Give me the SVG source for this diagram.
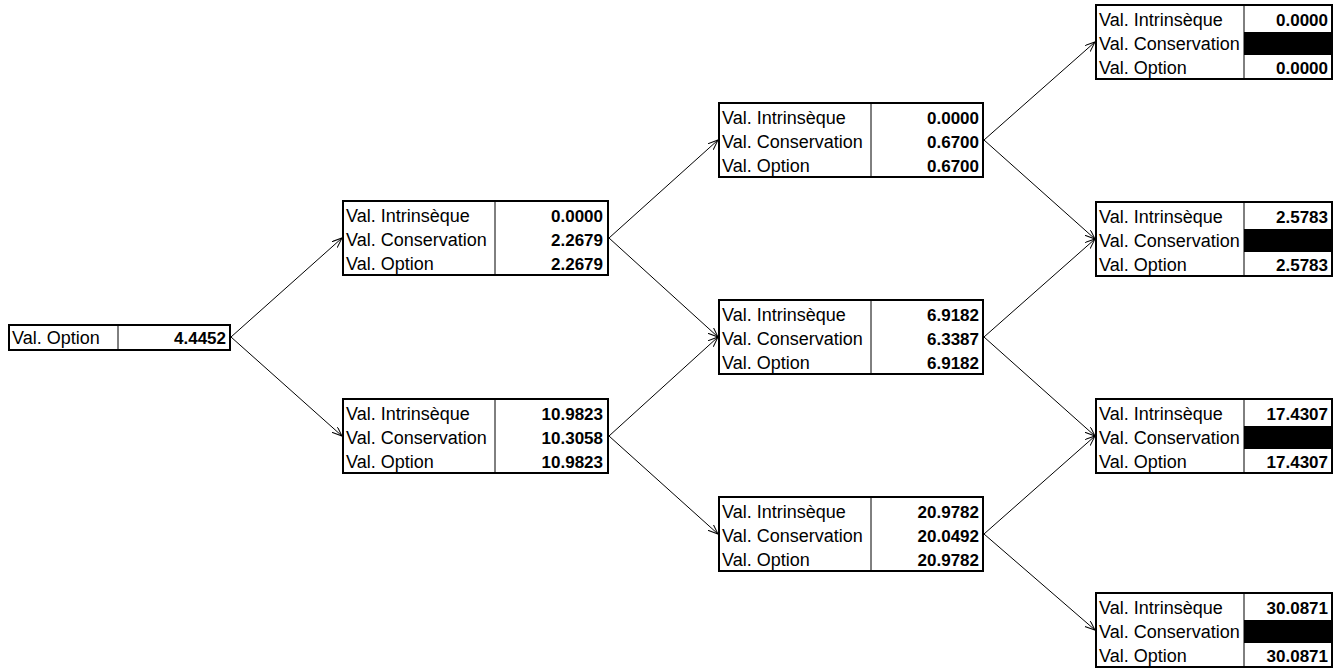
<svg xmlns="http://www.w3.org/2000/svg" width="1343" height="668" viewBox="0 0 1343 668">
<style>
.box{fill:#fff;stroke:#000;stroke-width:2}
.div{stroke:#000;stroke-width:1}
.lbl{font-family:"Liberation Sans",Arial,sans-serif;font-size:18px;fill:#000}
.val{font-family:"Liberation Sans",Arial,sans-serif;font-size:17px;font-weight:bold;fill:#000;text-anchor:end}
.blk{fill:#000}
.con{stroke:#000;stroke-width:1;fill:none;marker-end:url(#arr)}
</style>
<defs>
<marker id="arr" markerUnits="userSpaceOnUse" markerWidth="12" markerHeight="10" refX="10" refY="4" orient="auto">
<path d="M0,0 L10,4 L0,8" fill="none" stroke="#000" stroke-width="1"/>
</marker>
</defs>
<rect width="1343" height="668" fill="#fff"/>
<g id="connectors">
<line class="con" x1="231" y1="337" x2="342" y2="238"/>
<line class="con" x1="231" y1="337" x2="342" y2="436"/>
<line class="con" x1="609" y1="238" x2="718" y2="140"/>
<line class="con" x1="609" y1="238" x2="718" y2="337"/>
<line class="con" x1="609" y1="436" x2="718" y2="337"/>
<line class="con" x1="609" y1="436" x2="718" y2="534"/>
<line class="con" x1="984" y1="140" x2="1095" y2="42"/>
<line class="con" x1="984" y1="140" x2="1095" y2="239"/>
<line class="con" x1="984" y1="337" x2="1095" y2="239"/>
<line class="con" x1="984" y1="337" x2="1095" y2="436"/>
<line class="con" x1="984" y1="534" x2="1095" y2="436"/>
<line class="con" x1="984" y1="534" x2="1095" y2="630"/>
</g>
<g id="root">
<rect class="box" x="9" y="325" width="221" height="25"/>
<line class="div" x1="118" y1="325" x2="118" y2="350"/>
<text class="lbl" x="12" y="344">Val. Option</text>
<text class="val" x="226" y="344">4.4452</text>
</g>
<g id="n1a">
<rect class="box" x="343" y="201" width="265" height="74"/>
<line class="div" x1="495" y1="201" x2="495" y2="275"/>
<text class="lbl" x="346" y="222">Val. Intrinsèque</text>
<text class="lbl" x="346" y="246">Val. Conservation</text>
<text class="lbl" x="346" y="270">Val. Option</text>
<text class="val" x="603" y="222">0.0000</text>
<text class="val" x="603" y="246">2.2679</text>
<text class="val" x="603" y="270">2.2679</text>
</g>
<g id="n1b">
<rect class="box" x="343" y="399" width="265" height="74"/>
<line class="div" x1="495" y1="399" x2="495" y2="473"/>
<text class="lbl" x="346" y="420">Val. Intrinsèque</text>
<text class="lbl" x="346" y="444">Val. Conservation</text>
<text class="lbl" x="346" y="468">Val. Option</text>
<text class="val" x="603" y="420">10.9823</text>
<text class="val" x="603" y="444">10.3058</text>
<text class="val" x="603" y="468">10.9823</text>
</g>
<g id="n2a">
<rect class="box" x="719" y="103" width="264" height="74"/>
<line class="div" x1="871" y1="103" x2="871" y2="177"/>
<text class="lbl" x="722" y="124">Val. Intrinsèque</text>
<text class="lbl" x="722" y="148">Val. Conservation</text>
<text class="lbl" x="722" y="172">Val. Option</text>
<text class="val" x="979" y="124">0.0000</text>
<text class="val" x="979" y="148">0.6700</text>
<text class="val" x="979" y="172">0.6700</text>
</g>
<g id="n2b">
<rect class="box" x="719" y="300" width="264" height="74"/>
<line class="div" x1="871" y1="300" x2="871" y2="374"/>
<text class="lbl" x="722" y="321">Val. Intrinsèque</text>
<text class="lbl" x="722" y="345">Val. Conservation</text>
<text class="lbl" x="722" y="369">Val. Option</text>
<text class="val" x="979" y="321">6.9182</text>
<text class="val" x="979" y="345">6.3387</text>
<text class="val" x="979" y="369">6.9182</text>
</g>
<g id="n2c">
<rect class="box" x="719" y="497" width="264" height="74"/>
<line class="div" x1="871" y1="497" x2="871" y2="571"/>
<text class="lbl" x="722" y="518">Val. Intrinsèque</text>
<text class="lbl" x="722" y="542">Val. Conservation</text>
<text class="lbl" x="722" y="566">Val. Option</text>
<text class="val" x="979" y="518">20.9782</text>
<text class="val" x="979" y="542">20.0492</text>
<text class="val" x="979" y="566">20.9782</text>
</g>
<g id="n3a">
<rect class="box" x="1096" y="5" width="236" height="74"/>
<line class="div" x1="1244" y1="5" x2="1244" y2="79"/>
<rect class="blk" x="1244" y="32" width="88" height="23"/>
<text class="lbl" x="1099" y="26">Val. Intrinsèque</text>
<text class="lbl" x="1099" y="50">Val. Conservation</text>
<text class="lbl" x="1099" y="74">Val. Option</text>
<text class="val" x="1328" y="26">0.0000</text>
<text class="val" x="1328" y="74">0.0000</text>
</g>
<g id="n3b">
<rect class="box" x="1096" y="202" width="236" height="74"/>
<line class="div" x1="1244" y1="202" x2="1244" y2="276"/>
<rect class="blk" x="1244" y="229" width="88" height="23"/>
<text class="lbl" x="1099" y="223">Val. Intrinsèque</text>
<text class="lbl" x="1099" y="247">Val. Conservation</text>
<text class="lbl" x="1099" y="271">Val. Option</text>
<text class="val" x="1328" y="223">2.5783</text>
<text class="val" x="1328" y="271">2.5783</text>
</g>
<g id="n3c">
<rect class="box" x="1096" y="399" width="236" height="74"/>
<line class="div" x1="1244" y1="399" x2="1244" y2="473"/>
<rect class="blk" x="1244" y="426" width="88" height="23"/>
<text class="lbl" x="1099" y="420">Val. Intrinsèque</text>
<text class="lbl" x="1099" y="444">Val. Conservation</text>
<text class="lbl" x="1099" y="468">Val. Option</text>
<text class="val" x="1328" y="420">17.4307</text>
<text class="val" x="1328" y="468">17.4307</text>
</g>
<g id="n3d">
<rect class="box" x="1096" y="593" width="236" height="74"/>
<line class="div" x1="1244" y1="593" x2="1244" y2="667"/>
<rect class="blk" x="1244" y="620" width="88" height="23"/>
<text class="lbl" x="1099" y="614">Val. Intrinsèque</text>
<text class="lbl" x="1099" y="638">Val. Conservation</text>
<text class="lbl" x="1099" y="662">Val. Option</text>
<text class="val" x="1328" y="614">30.0871</text>
<text class="val" x="1328" y="662">30.0871</text>
</g>
</svg>
